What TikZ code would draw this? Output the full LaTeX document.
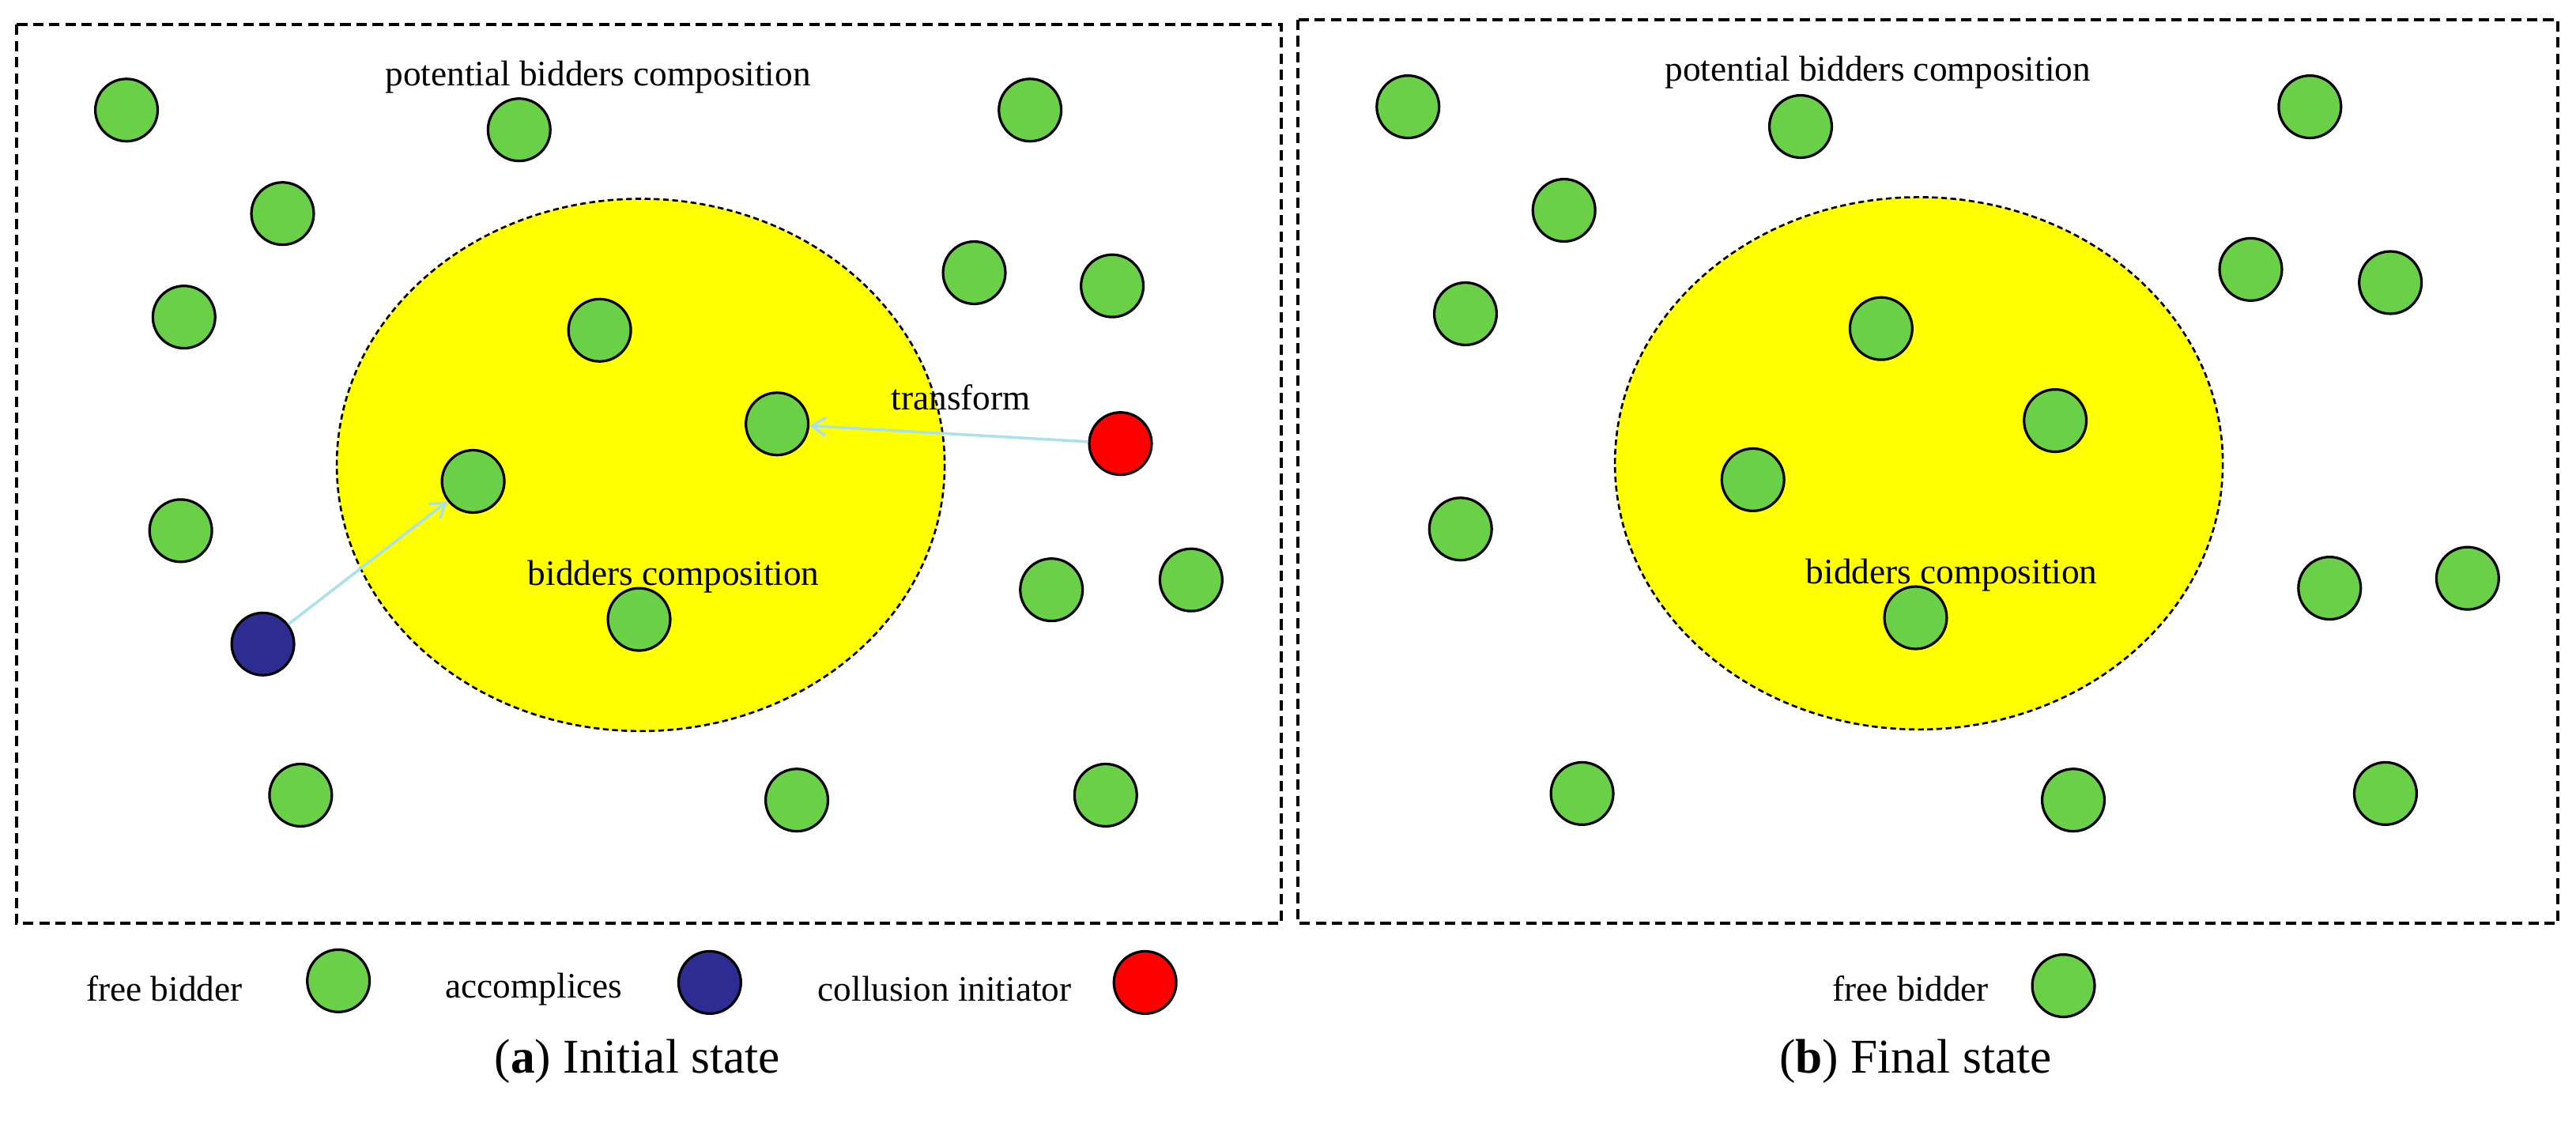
\documentclass[tikz,border=0pt]{standalone}
\usepackage{fontspec}
\usetikzlibrary{arrows.meta}
\setmainfont{Liberation Serif}
\begin{document}
\begin{tikzpicture}[x=0.05cm,y=-0.05cm,
 b/.style={circle,draw=black,line width=2.2pt,minimum size=54pt,inner sep=0pt},
 fb/.style={b,fill={rgb,255:red,106;green,208;blue,71}},
 ac/.style={b,fill={rgb,255:red,45;green,45;blue,145}},
 ci/.style={b,fill={rgb,255:red,255;green,0;blue,0}},
 txt/.style={font=\fontsize{31}{35}\selectfont,inner sep=0pt},
 captxt/.style={font=\fontsize{42}{48}\selectfont,inner sep=0pt},
 box/.style={draw,line width=2.4pt,dash pattern=on 9pt off 5pt},
 ell/.style={draw,fill={rgb,255:red,255;green,255;blue,0},line width=1.8pt,dash pattern=on 5pt off 3pt},
 arr/.style={draw={rgb,255:red,170;green,225;blue,235},line width=2.4pt,-{Straight Barb[length=12pt,width=16pt,line width=2.4pt]}}]
\useasboundingbox (0,0) rectangle (1568,684);
\draw[box] (10,15) rectangle (780,562);
\draw[box] (790,12) rectangle (1557,562);
\draw[ell] (390,283) ellipse [x radius=185,y radius=162];
\draw[ell] (1168,282) ellipse [x radius=185,y radius=162];
\node[txt] (t1) at (364,47) {potential bidders composition};
\node[txt] (t2) at (410,351) {bidders composition};
\node[txt] (t3) at (585,242) {transform};
\node[txt] (t4) at (1143,44) {potential bidders composition};
\node[txt] (t5) at (1188,350) {bidders composition};
\foreach \x/\y [count=\i] in {77/67,316/79,627/67,172/130,112/193,365/201,593/166,677/174,110/323,640/359,725/353,389/377,183/484,485/487,673/484}
  \node[fb] (l\i) at (\x,\y) {};
\node[fb] (lt) at (473,258) {};
\node[fb] (la) at (288,293) {};
\node[ci] (red) at (682,270) {};
\node[ac] (blue) at (160,392) {};
\draw[arr] (blue) -- (la);
\draw[arr] (red) -- (lt);
\foreach \x/\y [count=\i] in {857/65,1096/77,1406/65,952/128,892/191,1145/200,1370/164,1455/172,1251/256,1067/292,889/322,1418/358,1502/352,1166/376,963/483,1262/487,1452/483}
  \node[fb] (r\i) at (\x,\y) {};
\node[txt] (lg1) at (100,602) {free bidder};
\node[fb] (lgc1) at (206,597) {};
\node[txt] (lg2) at (325,602) {accomplices};
\node[ac] (lgc2) at (432,598) {};
\node[txt] (lg3) at (575,602) {collusion initiator};
\node[ci] (lgc3) at (697,598) {};
\node[txt] (lg4) at (1163,602) {free bidder};
\node[fb] (lgc4) at (1256,600) {};
\node[captxt] (ca) at (388,646) {(\textbf{a}) Initial state};
\node[captxt] (cb) at (1166,646) {(\textbf{b}) Final state};
\end{tikzpicture}
\end{document}
